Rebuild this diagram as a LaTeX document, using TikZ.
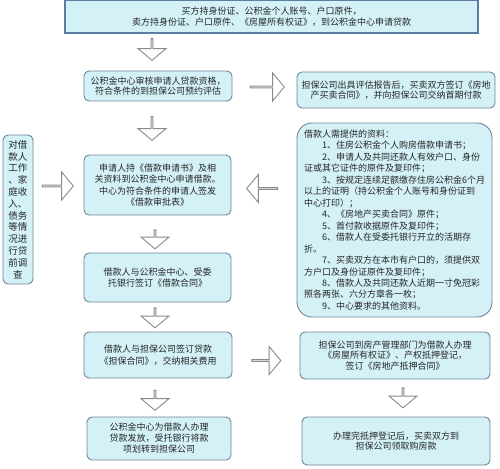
\documentclass[tikz,border=0pt]{standalone}
\usepackage{fontspec}
\newfontfamily\cjk{Noto Sans CJK SC}
\usetikzlibrary{shapes.arrows}
\definecolor{boxfill}{HTML}{D3F1F7}
\definecolor{boxline}{HTML}{6F8598}
\definecolor{topline}{HTML}{5B7FA3}
\definecolor{arrline}{HTML}{8A8A8A}
\definecolor{txt}{HTML}{262626}
\begin{document}
\begin{tikzpicture}[x=1pt,y=-1pt,
  box/.style={draw=boxline, fill=boxfill, line width=0.9pt, rounded corners=5pt,
    align=center, font=\cjk\fontsize{9}{10.5}\selectfont, text=txt, inner sep=2pt},
  barr/.style={single arrow, draw=arrline, fill=white, line width=0.9pt, inner sep=0pt,
    minimum width=28pt, single arrow head extend=7pt, single arrow tip angle=100},
]
\useasboundingbox (0,0) rectangle (500,468);
\fill[white] (0,0) rectangle (500,468);

% top box
\node[box, rounded corners=0pt, draw=topline, line width=1.4pt, minimum width=413pt, minimum height=33pt] (b1) at (271.5,16.5)
  {买方持身份证、公积金个人账号、户口原件，\\卖方持身份证、户口原件、《房屋所有权证》，到公积金中心申请贷款};

% second row
\node[box, minimum width=148pt, minimum height=30pt] (b2) at (158,86)
  {公积金中心审核申请人贷款资格，\\符合条件的到担保公司预约评估};
\node[box, minimum width=198pt, minimum height=36pt] (b3) at (396,90)
  {担保公司出具评估报告后，买卖双方签订《房地\\产买卖合同》，并向担保公司交纳首期付款};

% left vertical box
\node[box, minimum width=30pt, minimum height=149pt, inner sep=1pt,
  font=\cjk\fontsize{9.5}{11.8}\selectfont] (lb) at (18,209.5)
  {对借\\款人\\工作\\、家\\庭收\\入、\\债务\\等情\\况进\\行贷\\前调\\查};

% left column
\node[box, minimum width=147pt, minimum height=60pt, font=\cjk\fontsize{9}{11.5}\selectfont] (b4) at (157.5,185)
  {申请人持《借款申请书》及相\\关资料到公积金中心申请借款。\\中心为符合条件的申请人签发\\《借款审批表》};
\node[box, minimum width=147pt, minimum height=49pt] (b5) at (157.5,277.5)
  {借款人与公积金中心、受委\\托银行签订《借款合同》};
\node[box, minimum width=148pt, minimum height=46pt, font=\cjk\fontsize{9}{12}\selectfont] (b6) at (158,355)
  {借款人与担保公司签订贷款\\《担保合同》，交纳相关费用};
\node[box, minimum width=144pt, minimum height=43pt, font=\cjk\fontsize{9}{11}\selectfont] (b8) at (159,438.5)
  {公积金中心为借款人办理\\贷款发放，受托银行将款\\项划转到担保公司};

% right column
\node[box, rounded corners=15pt, minimum width=195pt, minimum height=194pt, align=left,
  font=\cjk\fontsize{9}{11.47}\selectfont, inner sep=4pt] (lst) at (394.5,220)
  {借款人需提供的资料：\\
  \hspace*{18pt}1、住房公积金个人购房借款申请书；\\
  \hspace*{18pt}2、申请人及共同还款人有效户口、身份\\
  证或其它证件的原件及复印件；\\
  \hspace*{18pt}3、按规定连续足额缴存住房公积金6个月\\
  以上的证明（持公积金个人账号和身份证到\\
  中心打印）；\\
  \hspace*{18pt}4、《房地产买卖合同》原件；\\
  \hspace*{18pt}5、首付款收据原件及复印件；\\
  \hspace*{18pt}6、借款人在受委托银行开立的活期存\\
  折。\\
  \hspace*{18pt}7、买卖双方在本市有户口的，须提供双\\
  方户口及身份证原件及复印件；\\
  \hspace*{18pt}8、借款人及共同还款人近期一寸免冠彩\\
  照各两张、六分方章各一枚；\\
  \hspace*{18pt}9、中心要求的其他资料。};
\node[box, minimum width=190pt, minimum height=47pt] (b7) at (395,355.5)
  {担保公司到房产管理部门为借款人办理\\《房屋所有权证》、产权抵押登记，\\签订《房地产抵押合同》};
\node[box, minimum width=188pt, minimum height=48pt] (b9) at (396,441)
  {办理完抵押登记后，买卖双方到\\担保公司领取购房款};

% hollow block arrows
\node[barr, shape border rotate=270, minimum height=22pt] (a1) at (152,49) {};
\node[barr, shape border rotate=0,   minimum height=34pt] (a2) at (267,87) {};
\node[barr, shape border rotate=270, minimum height=24pt] (a3) at (152,128) {};
\node[barr, shape border rotate=0,   minimum height=31pt] (a4) at (57.5,186) {};
\node[barr, shape border rotate=180, minimum height=31pt] (a5) at (262.5,188.5) {};
\node[barr, shape border rotate=270, minimum height=19pt] (a6) at (155,239) {};
\node[barr, shape border rotate=270, minimum height=20pt] (a7) at (155,317.5) {};
\node[barr, shape border rotate=0,   minimum height=29pt] (a8) at (266,360.5) {};
\node[barr, shape border rotate=270, minimum height=20pt] (a9) at (155,400) {};
\node[barr, shape border rotate=270, minimum height=20pt] (a10) at (403,397.5) {};
\end{tikzpicture}
\end{document}
